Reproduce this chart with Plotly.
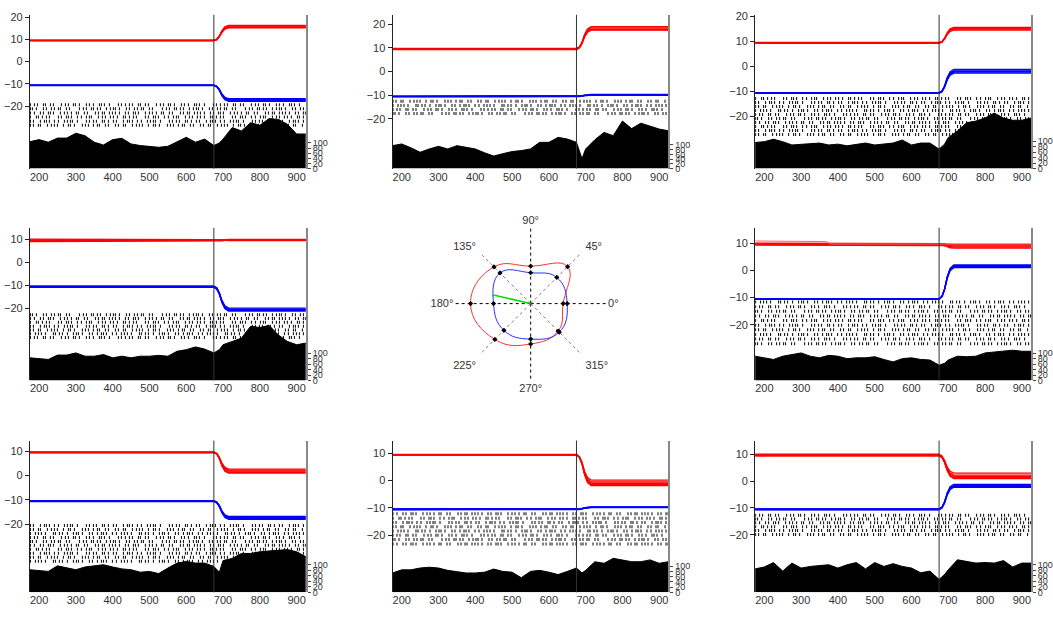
import plotly.graph_objects as go

W, H = 1053, 621

# ---------------- data ----------------
x_ticks = [200, 300, 400, 500, 600, 700, 800, 900]
x_range = [175, 925]
onset = 675
eye_ticks = [-20, -10, 0, 10, 20]
rate_ticks = [0, 20, 40, 60, 80, 100]

# PSTH time base (ms) and firing-rate profiles (spikes/s)
psth_t = [175, 200, 225, 250, 275, 300, 325, 350, 375, 400, 425, 450, 475, 500, 525, 550,
          575, 600, 625, 650, 675, 690, 700, 725, 750, 775, 800, 825, 850, 875, 900, 925]
psth_tl = [105, 113, 103, 119, 119, 138, 128, 103, 92, 113, 118, 96, 90, 87, 83, 87,
           103, 122, 103, 115, 90, 100, 115, 160, 147, 179, 169, 195, 192, 173, 135, 135]
psth_tc = [97, 104, 88, 69, 83, 94, 83, 97, 90, 83, 67, 53, 63, 72, 76, 83,
           111, 111, 132, 125, 111, 42, 83, 122, 153, 139, 201, 169, 192, 181, 167, 160]
psth_tr = [95, 98, 107, 98, 86, 88, 89, 93, 86, 89, 83, 89, 93, 86, 89, 93,
           104, 86, 93, 93, 71, 89, 113, 137, 167, 173, 184, 202, 184, 176, 176, 184]
psth_ml = [83, 80, 77, 93, 93, 101, 89, 89, 95, 83, 89, 83, 89, 89, 92, 89,
           107, 113, 123, 115, 101, 113, 131, 143, 155, 199, 194, 202, 167, 143, 131, 137]
psth_mr = [89, 83, 77, 89, 95, 101, 89, 83, 92, 89, 80, 83, 83, 87, 77, 68,
           80, 83, 77, 75, 56, 63, 75, 89, 87, 89, 101, 104, 107, 111, 107, 107]
psth_bl = [82, 80, 76, 96, 88, 82, 92, 96, 100, 92, 85, 82, 73, 76, 68, 88,
           106, 112, 106, 106, 94, 73, 115, 123, 141, 141, 147, 150, 153, 155, 147, 129]
psth_bc = [74, 86, 86, 93, 96, 93, 84, 80, 74, 74, 77, 89, 80, 77, 56, 80,
           84, 77, 68, 80, 93, 74, 84, 117, 111, 130, 124, 117, 117, 124, 111, 117]
psth_br = [85, 92, 108, 77, 106, 88, 94, 97, 100, 88, 100, 108, 85, 108, 94, 104,
           94, 88, 71, 77, 47, 65, 82, 118, 112, 106, 108, 106, 115, 92, 106, 106]

# saccade time course (fraction of the displacement completed)
sacc_t = [175, 675, 683, 690, 697, 705, 715, 925]
sacc_frac = [0, 0, 0.08, 0.3, 0.65, 0.9, 1.0, 1.0]

# eye position per trial (deg): start and end levels
red_pre_tl = [9.5, 9.4, 9.6, 9.3, 9.5]
red_post_tl = [15.2, 15.6, 16.0, 16.3, 15.4]
blue_pre_tl = [-10.6, -10.7, -10.5, -10.8, -10.6]
blue_post_tl = [-16.6, -17.0, -17.4, -17.8, -17.2]

red_pre_tc = [9.3, 9.6, 9.8, 9.4, 9.5]
red_post_tc = [17.5, 17.8, 18.0, 18.5, 19.0]
blue_pre_tc = [-10.4, -10.6, -10.5, -10.7, -10.5]
blue_post_tc = [-9.7, -9.9, -10.0, -9.6, -9.8]

red_pre_tr = [9.4, 9.5, 9.6, 9.3, 9.5]
red_post_tr = [14.6, 15.0, 15.3, 15.7, 15.2]
blue_pre_tr = [-10.6, -10.7, -10.5, -10.8, -10.6]
blue_post_tr = [-1.2, -1.8, -2.3, -2.7, -2.0]

red_pre_ml = [9.0, 9.5, 10.0, 9.3, 9.7]
red_post_ml = [9.5, 9.8, 9.4, 9.9, 9.6]
blue_pre_ml = [-10.4, -10.6, -10.8, -10.5, -11.0]
blue_post_ml = [-20.0, -20.5, -21.0, -21.3, -20.7]

red_pre_mr = [9.5, 9.3, 9.8, 10.0, 9.6]
red_post_mr = [8.2, 8.6, 9.0, 9.4, 9.6]
blue_pre_mr = [-10.4, -10.6, -10.5, -10.7, -10.5]
blue_post_mr = [1.0, 1.4, 1.7, 2.0, 1.5]

red_pre_bl = [9.4, 9.5, 9.6, 9.3, 9.5]
red_post_bl = [0.9, 1.3, 1.8, 2.2, 2.6]
blue_pre_bl = [-10.4, -10.6, -10.5, -10.7, -10.5]
blue_post_bl = [-16.8, -17.2, -17.6, -18.0, -17.4]

red_pre_bc = [9.4, 9.5, 9.6, 9.5, 9.5]
red_post_bc = [-1.8, -1.4, -1.0, -0.5, 0.2]
blue_pre_bc = [-10.4, -10.6, -10.5, -10.7, -10.5]
blue_post_bc = [-9.6, -9.8, -9.9, -9.7, -9.8]

red_pre_br = [9.4, 9.5, 9.6, 10.0, 9.5]
red_post_br = [0.9, 1.3, 1.7, 2.2, 3.0]
blue_pre_br = [-10.4, -10.6, -10.5, -10.7, -10.5]
blue_post_br = [-1.2, -1.6, -2.0, -2.3, -1.8]

# raster extent (deg units on left axis) and number of trials shown
raster_top = [-18.4, -11.7, -12.1, -22.1, -10.8, -19.8, -11.4, -12.0]
raster_bottom = [-29.5, -18.6, -28.1, -33.6, -27.8, -36.0, -24.0, -20.6]
raster_trials = [6, 4, 10, 7, 10, 10, 8, 6]

# tuning curve (polar)
directions = [0, 45, 90, 135, 180, 225, 270, 315]
tuning_red = [33, 53, 38, 52.6, 61, 51.4, 41, 39.4]
tuning_blue = [37, 37.5, 31.3, 44, 37.7, 38.4, 36, 41]
pref_dir = 167
pref_len = 40

# ---------------- layout geometry (pixels) ----------------
eye_range = [[-48, 21], [-41, 24], [-41, 20.7], [-51.5, 15], [-40.5, 15.7],
             [-48, 14.3], [-41, 14.7], [-41.5, 15.1]]
psth_max = [600, 650, 560, 560, 560, 550, 580, 550]
panel_px = [  # x0, x1, ytop, ybottom
    (30, 307, 11, 167), (394, 671, 11, 167), (758, 1035, 11, 167),
    (30, 307, 227, 382), (758, 1035, 227, 382),
    (30, 307, 443, 597), (394, 671, 443, 597), (758, 1035, 443, 597)]

psths = [psth_tl, psth_tc, psth_tr, psth_ml, psth_mr, psth_bl, psth_bc, psth_br]
reds = [(red_pre_tl, red_post_tl), (red_pre_tc, red_post_tc), (red_pre_tr, red_post_tr),
        (red_pre_ml, red_post_ml), (red_pre_mr, red_post_mr), (red_pre_bl, red_post_bl),
        (red_pre_bc, red_post_bc), (red_pre_br, red_post_br)]
blues = [(blue_pre_tl, blue_post_tl), (blue_pre_tc, blue_post_tc), (blue_pre_tr, blue_post_tr),
         (blue_pre_ml, blue_post_ml), (blue_pre_mr, blue_post_mr), (blue_pre_bl, blue_post_bl),
         (blue_pre_bc, blue_post_bc), (blue_pre_br, blue_post_br)]

# irregular dash styles used to render raster rows (gap widths in px)
raster_gaps = [
    [3, 2, 5, 1, 4, 2, 7, 3, 2, 4, 1, 3, 6, 2, 3, 5, 1, 2, 4, 8, 2, 3],
    [2, 4, 1, 6, 3, 2, 2, 5, 4, 1, 3, 7, 2, 2, 4, 3, 1, 5, 2, 6],
    [5, 1, 3, 3, 2, 8, 2, 4, 1, 2, 5, 3, 4, 2, 1, 6, 3, 2, 4, 2, 3],
    [1, 3, 6, 2, 4, 2, 3, 1, 5, 2, 9, 3, 2, 4, 1, 3, 2, 5, 3, 2],
    [4, 2, 2, 3, 7, 1, 3, 2, 4, 5, 2, 1, 3, 6, 2, 4, 3, 1, 2, 5, 3],
    [2, 6, 3, 1, 2, 4, 3, 5, 2, 2, 1, 4, 8, 2, 3, 2, 5, 1, 3, 4],
    [3, 5, 2, 4, 1, 2, 6, 3, 2, 3, 4, 1, 5, 2, 7, 2, 3, 1, 4, 2, 2],
]


def dash_of(gaps):
    return ",".join(f"1px,{g}px" for g in gaps)


def ax_id(k):
    return "" if k == 1 else str(k)


FONT = "Liberation Sans, Arial, sans-serif"
fig = go.Figure()
layout = dict(width=W, height=H, margin=dict(l=0, r=0, t=0, b=0),
              paper_bgcolor="white", plot_bgcolor="white", showlegend=False,
              font=dict(family=FONT, size=11, color="#333"))
shapes = []

for i in range(8):
    k = i + 1
    kr = i + 9
    x0, x1, yt, yb = panel_px[i]
    xd = [x0 / W, x1 / W]
    yd = [1 - yb / H, 1 - yt / H]
    xa, ya, yra = f"x{ax_id(k)}", f"y{ax_id(k)}", f"y{ax_id(kr)}"
    layout[f"xaxis{ax_id(k)}"] = dict(domain=xd, anchor=ya, range=x_range, tickvals=x_ticks,
                                      showgrid=False, zeroline=False, showline=False, ticks="",
                                      tickfont=dict(size=11, color="#333"), fixedrange=True)
    lo, hi = eye_range[i]
    layout[f"yaxis{ax_id(k)}"] = dict(domain=yd, anchor=xa, range=[lo, hi],
                                      tickvals=[t for t in eye_ticks if lo <= t <= hi],
                                      showgrid=False, zeroline=False, showline=True,
                                      linecolor="#222", linewidth=1, ticks="outside", ticklen=4,
                                      tickcolor="#222", tickfont=dict(size=11, color="#333"),
                                      fixedrange=True)
    layout[f"yaxis{ax_id(kr)}"] = dict(overlaying=ya, anchor=xa, side="right",
                                       range=[0, psth_max[i]], tickvals=rate_ticks,
                                       showgrid=False, zeroline=False, showline=True,
                                       linecolor="#888", linewidth=2, ticks="outside", ticklen=3,
                                       tickcolor="#444", tickfont=dict(size=9, color="#333"),
                                       fixedrange=True)

    # raster
    n = raster_trials[i]
    step = (raster_bottom[i] - raster_top[i]) / n
    for r in range(n):
        yrow = raster_top[i] + (r + 0.5) * step
        fig.add_trace(go.Scatter(x=x_range, y=[yrow, yrow], mode="lines", xaxis=xa, yaxis=ya,
                                 line=dict(color="black", width=3,
                                           dash=dash_of(raster_gaps[(3 * r + i) % len(raster_gaps)])),
                                 hoverinfo="skip"))

    # eye traces
    for (pre, post), col in ((reds[i], "#ff0000"), (blues[i], "#0000ff")):
        for a, b in zip(pre, post):
            fig.add_trace(go.Scatter(x=sacc_t, y=[a + f * (b - a) for f in sacc_frac],
                                     mode="lines", xaxis=xa, yaxis=ya,
                                     line=dict(color=col, width=1.3), hoverinfo="skip"))

    # PSTH
    fig.add_trace(go.Scatter(x=psth_t, y=psths[i], mode="lines", xaxis=xa, yaxis=yra,
                             fill="tozeroy", fillcolor="black",
                             line=dict(color="black", width=1), hoverinfo="skip"))

    # stimulus onset line
    shapes.append(dict(type="line", xref=xa, yref=f"{ya} domain", x0=onset, x1=onset,
                       y0=0, y1=1, line=dict(color="#333", width=1)))

# extra trial in middle-right panel (red trace starting high)
fig.add_trace(go.Scatter(x=[175, 368, 378, 925], y=[10.8, 10.6, 9.7, 9.7], mode="lines",
                         xaxis="x5", yaxis="y5", line=dict(color="#ff6060", width=1),
                         hoverinfo="skip"))

# ---------------- polar tuning plot ----------------
cx, cy, R = 532.7, 304, 78
layout["polar"] = dict(domain=dict(x=[(cx - R) / W, (cx + R) / W],
                                   y=[1 - (cy + R) / H, 1 - (cy - R) / H]),
                       bgcolor="white",
                       radialaxis=dict(range=[0, R], visible=False),
                       angularaxis=dict(tickvals=directions,
                                        ticktext=[f"{d}°" for d in directions],
                                        showline=False, showgrid=False, ticks="",
                                        tickfont=dict(size=11, color="#333")))
for d in directions:
    cardinal = d % 90 == 0
    fig.add_trace(go.Scatterpolar(r=[0, R if cardinal else 70], theta=[d, d], mode="lines",
                                  line=dict(color="#000" if cardinal else "#808080",
                                            width=1, dash="3px,3px"),
                                  hoverinfo="skip"))
for vals, col in ((tuning_red, "#ff3030"), (tuning_blue, "#3030ff")):
    fig.add_trace(go.Scatterpolar(r=vals + [vals[0]], theta=directions + [360], mode="lines",
                                  line=dict(color=col, width=1, shape="spline", smoothing=1.3),
                                  hoverinfo="skip"))
    fig.add_trace(go.Scatterpolar(r=vals, theta=directions, mode="markers",
                                  marker=dict(color="black", size=4, symbol="diamond"),
                                  hoverinfo="skip"))
fig.add_trace(go.Scatterpolar(r=[0, pref_len], theta=[pref_dir, pref_dir], mode="lines",
                              line=dict(color="#00dd00", width=1.5), hoverinfo="skip"))

layout["shapes"] = shapes
fig.update_layout(**layout)
fig.write_html("out.html")
